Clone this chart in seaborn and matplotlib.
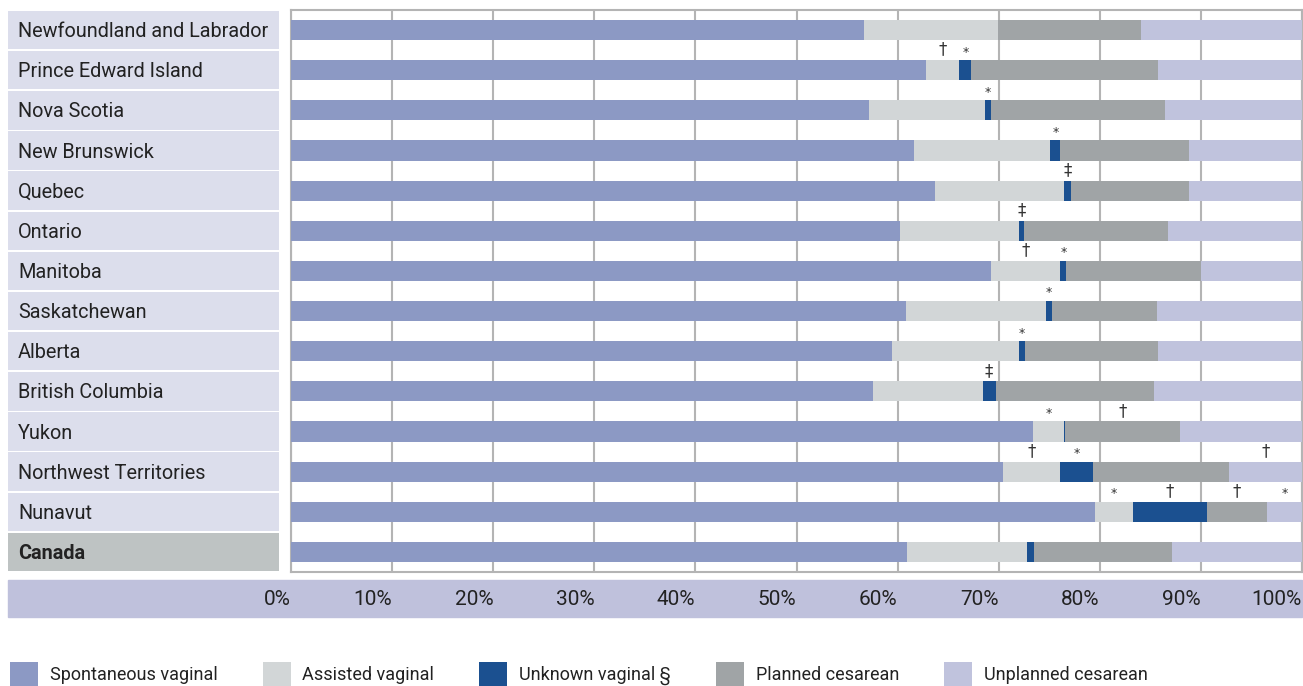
import matplotlib
matplotlib.use('Agg')
import matplotlib.pyplot as plt
from matplotlib.patches import Patch, Rectangle
import numpy as np
import pandas as pd
import seaborn as sns

sns.set_style('white')
plt.rcParams['font.family'] = ['Roboto', 'DejaVu Sans']

regions = ['Newfoundland and Labrador', 'Prince Edward Island', 'Nova Scotia', 'New Brunswick',
           'Quebec', 'Ontario', 'Manitoba', 'Saskatchewan', 'Alberta', 'British Columbia',
           'Yukon', 'Northwest Territories', 'Nunavut', 'Canada']

spontaneous = [56.7, 62.8, 57.2, 61.6, 63.7, 60.2, 69.2, 60.8, 59.4, 57.6, 73.4, 70.4, 79.5, 60.9]
assisted    = [13.2, 3.3, 11.4, 13.5, 12.8, 11.8, 6.9, 13.9, 12.6, 10.8, 3.1, 5.7, 3.8, 11.9]
unknown     = [0.0, 1.2, 0.6, 1.0, 0.7, 0.5, 0.6, 0.6, 0.6, 1.3, 0.1, 3.2, 7.3, 0.7]
planned     = [14.2, 18.5, 17.2, 12.7, 11.6, 14.2, 13.3, 10.4, 13.2, 15.7, 11.3, 13.5, 5.9, 13.6]
unplanned   = [15.9, 14.2, 13.6, 11.2, 11.2, 13.3, 10.0, 14.3, 14.2, 14.6, 12.1, 7.2, 3.5, 12.9]

# footnote symbols above each segment
note_spont     = [''] * 14
note_assisted  = ['', '†', '', '', '', '', '†', '', '', '', '*', '†', '*', '']
note_unknown   = ['', '*', '*', '*', '‡', '‡', '*', '*', '*', '‡', '', '*', '†', '']
note_planned   = ['', '', '', '', '', '', '', '', '', '', '†', '', '†', '']
note_unplanned = ['', '', '', '', '', '', '', '', '', '', '', '†', '*', '']

series = ['Spontaneous vaginal', 'Assisted vaginal', 'Unknown vaginal §',
          'Planned cesarean', 'Unplanned cesarean']
colors = ['#8C99C4', '#D2D6D7', '#1B5090', '#A0A4A6', '#C0C3DD']

df = pd.DataFrame({'region': regions, 's0': spontaneous, 's1': assisted, 's2': unknown,
                   's3': planned, 's4': unplanned})
vals = df[['s0', 's1', 's2', 's3', 's4']].to_numpy()
cum = np.cumsum(vals, axis=1)
notes = np.array([note_spont, note_assisted, note_unknown, note_planned, note_unplanned]).T

W, H = 1303, 686
fig = plt.figure(figsize=(W / 100, H / 100), dpi=100)
top, bot = 10, 572
ax = fig.add_axes([291 / W, 1 - bot / H, (1302 - 291) / W, (bot - top) / H])

# stacked bars: draw cumulative totals from the right-most segment back
for k in range(4, -1, -1):
    sns.barplot(x=cum[:, k], y=df['region'], orient='h', color=colors[k], saturation=1,
                width=0.5, ax=ax, zorder=3, linewidth=0)

for i in range(len(regions)):
    for k in range(5):
        if notes[i, k]:
            xc = cum[i, k] - vals[i, k] / 2
            fs = 9 if notes[i, k] == '*' else 12
            ax.text(xc, i - 0.29, notes[i, k], ha='center', va='bottom', fontsize=fs,
                    color='#333333', family='DejaVu Sans', zorder=5)

ax.set_xlim(0, 100)
ax.set_ylim(13.5, -0.5)
ax.set_xticks(np.arange(0, 101, 10))
ax.set_xticklabels([f'{t}%' for t in range(0, 101, 10)], ha='right', fontsize=15, color='#222222')
ax.tick_params(axis='x', length=0, pad=13)
ax.set_yticks([])
ax.set_xlabel('')
ax.set_ylabel('')
ax.grid(axis='x', color='#B4B4B4', linewidth=1.5, zorder=0)
for s in ax.spines.values():
    s.set_color('#B4B4B4')
    s.set_linewidth(1.5)

# band behind the tick labels
fig.patches.append(Rectangle((8 / W, 1 - 617 / H), (1302 - 8) / W, 37 / H,
                             transform=fig.transFigure, color='#BFC1DC', zorder=-5))

# region label boxes
axl = fig.add_axes([8 / W, 1 - bot / H, (279 - 8) / W, (bot - top) / H])
axl.set_xlim(0, 1)
axl.set_ylim(13.5, -0.5)
axl.axis('off')
for i, r in enumerate(regions):
    last = r == 'Canada'
    axl.barh(i, 1, height=0.96, color='#BEC3C3' if last else '#DCDEEC', linewidth=0)
    axl.text(0.037, i + 0.04, r, va='center', ha='left', fontsize=14.3, color='#222222',
             fontweight='bold' if last else 'normal')

handles = [Patch(facecolor=c, edgecolor='none') for c in colors]
fig.legend(handles, series, loc='lower left', bbox_to_anchor=(10 / W, 0), ncol=5,
           frameon=False, fontsize=13, handlelength=1.55, handleheight=1.65,
           handletextpad=0.65, columnspacing=2.5, borderpad=0, borderaxespad=0,
           labelcolor='#222222')

fig.savefig('out.png', dpi=100)
